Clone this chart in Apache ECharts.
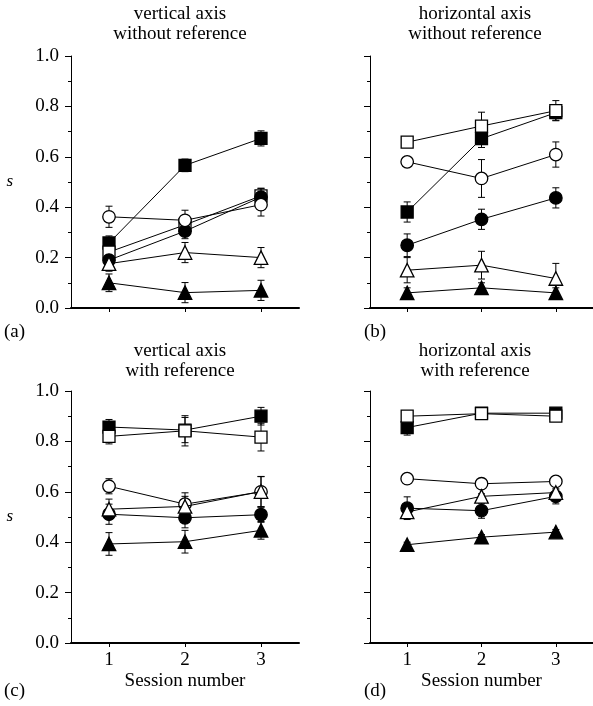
<!DOCTYPE html>
<html>
<head>
<meta charset="utf-8">
<script src="https://cdn.jsdelivr.net/npm/echarts@6/dist/echarts.min.js"></script>
<style>
html,body{margin:0;padding:0;background:#fff;}
#chart{width:593px;height:706px;}
</style>
</head>
<body>
<div id="chart"></div>
<script>
// ---- data ----
const sessions = ['1', '2', '3'];
const yTicks = [0, 0.2, 0.4, 0.6, 0.8, 1.0];

const panelTitles = [
  'vertical axis\nwithout reference',
  'horizontal axis\nwithout reference',
  'vertical axis\nwith reference',
  'horizontal axis\nwith reference'
];
const panelLetters = ['(a)', '(b)', '(c)', '(d)'];

// panel (a)
const aFilledSquare = [0.258, 0.566, 0.673];
const aFilledSquareErr = [0.028, 0.025, 0.03];
const aOpenSquare = [0.222, 0.33, 0.445];
const aOpenSquareErr = [0.03, 0.03, 0.03];
const aFilledCircle = [0.19, 0.305, 0.44];
const aFilledCircleErr = [0.02, 0.03, 0.035];
const aOpenCircle = [0.362, 0.348, 0.41];
const aOpenCircleErr = [0.042, 0.04, 0.045];
const aFilledTriangle = [0.1, 0.061, 0.07];
const aFilledTriangleErr = [0.035, 0.04, 0.04];
const aOpenTriangle = [0.176, 0.22, 0.2];
const aOpenTriangleErr = [0.03, 0.04, 0.04];

// panel (b)
const bFilledSquare = [0.381, 0.672, 0.775];
const bFilledSquareErr = [0.04, 0.035, 0.03];
const bOpenSquare = [0.658, 0.722, 0.783];
const bOpenSquareErr = [0.0, 0.055, 0.04];
const bFilledCircle = [0.249, 0.352, 0.437];
const bFilledCircleErr = [0.045, 0.04, 0.04];
const bOpenCircle = [0.58, 0.514, 0.609];
const bOpenCircleErr = [0.0, 0.075, 0.05];
const bFilledTriangle = [0.06, 0.08, 0.06];
const bFilledTriangleErr = [0.02, 0.02, 0.02];
const bOpenTriangle = [0.15, 0.17, 0.117];
const bOpenTriangleErr = [0.05, 0.055, 0.06];

// panel (c)
const cFilledSquare = [0.857, 0.845, 0.9];
const cFilledSquareErr = [0.03, 0.05, 0.035];
const cOpenSquare = [0.82, 0.842, 0.817];
const cOpenSquareErr = [0.03, 0.06, 0.055];
const cFilledCircle = [0.511, 0.497, 0.509];
const cFilledCircleErr = [0.04, 0.04, 0.03];
const cOpenCircle = [0.622, 0.551, 0.6];
const cOpenCircleErr = [0.03, 0.045, 0.06];
const cFilledTriangle = [0.393, 0.402, 0.447];
const cFilledTriangleErr = [0.045, 0.045, 0.035];
const cOpenTriangle = [0.531, 0.542, 0.601];
const cOpenTriangleErr = [0.04, 0.04, 0.06];

// panel (d)
const dFilledSquare = [0.855, 0.912, 0.912];
const dFilledSquareErr = [0.03, 0.015, 0.015];
const dOpenSquare = [0.9, 0.91, 0.9];
const dOpenSquareErr = [0.01, 0.015, 0.015];
const dFilledCircle = [0.535, 0.525, 0.582];
const dFilledCircleErr = [0.045, 0.03, 0.03];
const dOpenCircle = [0.652, 0.632, 0.641];
const dOpenCircleErr = [0.01, 0.01, 0.01];
const dFilledTriangle = [0.39, 0.42, 0.44];
const dFilledTriangleErr = [0.01, 0.01, 0.01];
const dOpenTriangle = [0.52, 0.582, 0.597];
const dOpenTriangleErr = [0.01, 0.01, 0.01];

// ---- build ----
const FONT = '"Liberation Serif", "DejaVu Serif", serif';
const panels = [
  [[aFilledSquare, aFilledSquareErr], [aOpenSquare, aOpenSquareErr], [aFilledCircle, aFilledCircleErr], [aOpenCircle, aOpenCircleErr], [aFilledTriangle, aFilledTriangleErr], [aOpenTriangle, aOpenTriangleErr]],
  [[bFilledSquare, bFilledSquareErr], [bOpenSquare, bOpenSquareErr], [bFilledCircle, bFilledCircleErr], [bOpenCircle, bOpenCircleErr], [bFilledTriangle, bFilledTriangleErr], [bOpenTriangle, bOpenTriangleErr]],
  [[cFilledSquare, cFilledSquareErr], [cOpenSquare, cOpenSquareErr], [cFilledCircle, cFilledCircleErr], [cOpenCircle, cOpenCircleErr], [cFilledTriangle, cFilledTriangleErr], [cOpenTriangle, cOpenTriangleErr]],
  [[dFilledSquare, dFilledSquareErr], [dOpenSquare, dOpenSquareErr], [dFilledCircle, dFilledCircleErr], [dOpenCircle, dOpenCircleErr], [dFilledTriangle, dFilledTriangleErr], [dOpenTriangle, dOpenTriangleErr]]
];
const markerStyles = [
  {symbol: 'rect', size: 12, fill: '#000'},
  {symbol: 'rect', size: 12, fill: '#fff'},
  {symbol: 'circle', size: 12.5, fill: '#000'},
  {symbol: 'circle', size: 12.5, fill: '#fff'},
  {symbol: 'triangle', size: 13.5, fill: '#000'},
  {symbol: 'triangle', size: 13.5, fill: '#fff'}
];

const gridPos = [
  {left: 71, top: 56, titleX: 175, titleTop: -1, letterTop: 323},
  {left: 370, top: 56, titleX: 470, titleTop: -1, letterTop: 323},
  {left: 71, top: 391, titleX: 175, titleTop: 336, letterTop: 682},
  {left: 370, top: 391, titleX: 470, titleTop: 336, letterTop: 682}
];
const GW = 228, GH = 252;

const grids = [], xAxes = [], yAxes = [], series = [], titles = [], graphics = [];

gridPos.forEach((g, i) => {
  grids.push({left: g.left, top: g.top, width: GW, height: GH, containLabel: false});
  const bottomRow = i >= 2;
  const leftCol = i % 2 === 0;
  xAxes.push({
    type: 'category', gridIndex: i, data: sessions, boundaryGap: true,
    axisLine: {show: true, lineStyle: {color: '#000', width: 2}},
    axisTick: {show: true, alignWithLabel: true, length: 4, lineStyle: {color: '#000', width: 1}},
    axisLabel: {show: bottomRow, color: '#000', fontFamily: FONT, fontSize: 19, margin: 8},
    splitLine: {show: false},
    name: bottomRow ? 'Session number' : '',
    nameLocation: 'middle', nameGap: 29,
    nameTextStyle: {color: '#000', fontFamily: FONT, fontSize: 19}
  });
  yAxes.push({
    type: 'value', gridIndex: i, min: 0, max: 1, interval: 0.2,
    axisLine: {show: true, lineStyle: {color: '#000', width: 1}},
    axisTick: {show: true, length: 6, lineStyle: {color: '#000', width: 1}},
    minorTick: {show: true, splitNumber: 2, length: 3, lineStyle: {color: '#000', width: 1}},
    splitLine: {show: false}, minorSplitLine: {show: false},
    axisLabel: {show: leftCol, color: '#000', fontFamily: FONT, fontSize: 19, margin: 12,
      formatter: v => v.toFixed(1)},
    name: leftCol ? 's' : '', nameLocation: 'middle', nameGap: 58, nameRotate: 0,
    nameTextStyle: {color: '#000', fontFamily: FONT, fontSize: 17, fontStyle: 'italic'}
  });
  titles.push({
    text: panelTitles[i], left: g.titleX, top: g.titleTop, textAlign: 'center',
    textStyle: {color: '#000', fontFamily: FONT, fontSize: 19, fontWeight: 'normal', lineHeight: 20}
  });
  graphics.push({
    type: 'text', left: leftCol ? 4 : 364, top: g.letterTop,
    style: {text: panelLetters[i], fill: '#000', font: '19px ' + FONT}
  });

  panels[i].forEach((pair, k) => {
    const vals = pair[0], errs = pair[1];
    const ms = markerStyles[k];
    series.push({
      type: 'custom', xAxisIndex: i, yAxisIndex: i, z: 2 + k * 2,
      data: vals.map((v, j) => [j, v - errs[j], v + errs[j]]),
      encode: {x: 0, y: [1, 2]},
      silent: true,
      renderItem: (params, api) => {
        const x = api.value(0);
        const lo = api.coord([x, api.value(1)]);
        const hi = api.coord([x, api.value(2)]);
        const cw = 3.5;
        const st = {stroke: '#000', lineWidth: 1};
        return {type: 'group', children: [
          {type: 'line', shape: {x1: lo[0], y1: lo[1], x2: hi[0], y2: hi[1]}, style: st},
          {type: 'line', shape: {x1: lo[0] - cw, y1: lo[1], x2: lo[0] + cw, y2: lo[1]}, style: st},
          {type: 'line', shape: {x1: hi[0] - cw, y1: hi[1], x2: hi[0] + cw, y2: hi[1]}, style: st}
        ]};
      }
    });
    series.push({
      type: 'line', xAxisIndex: i, yAxisIndex: i, z: 3 + k * 2,
      data: vals, symbol: ms.symbol, symbolSize: ms.size,
      showAllSymbol: true, animation: false,
      lineStyle: {color: '#000', width: 1},
      itemStyle: {color: ms.fill, borderColor: '#000', borderWidth: 1.3}
    });
  });
});

const chart = echarts.init(document.getElementById('chart'), null, {renderer: 'canvas'});
chart.setOption({
  backgroundColor: '#fff',
  animation: false,
  title: titles,
  grid: grids,
  xAxis: xAxes,
  yAxis: yAxes,
  series: series,
  graphic: graphics
});
</script>
</body>
</html>
